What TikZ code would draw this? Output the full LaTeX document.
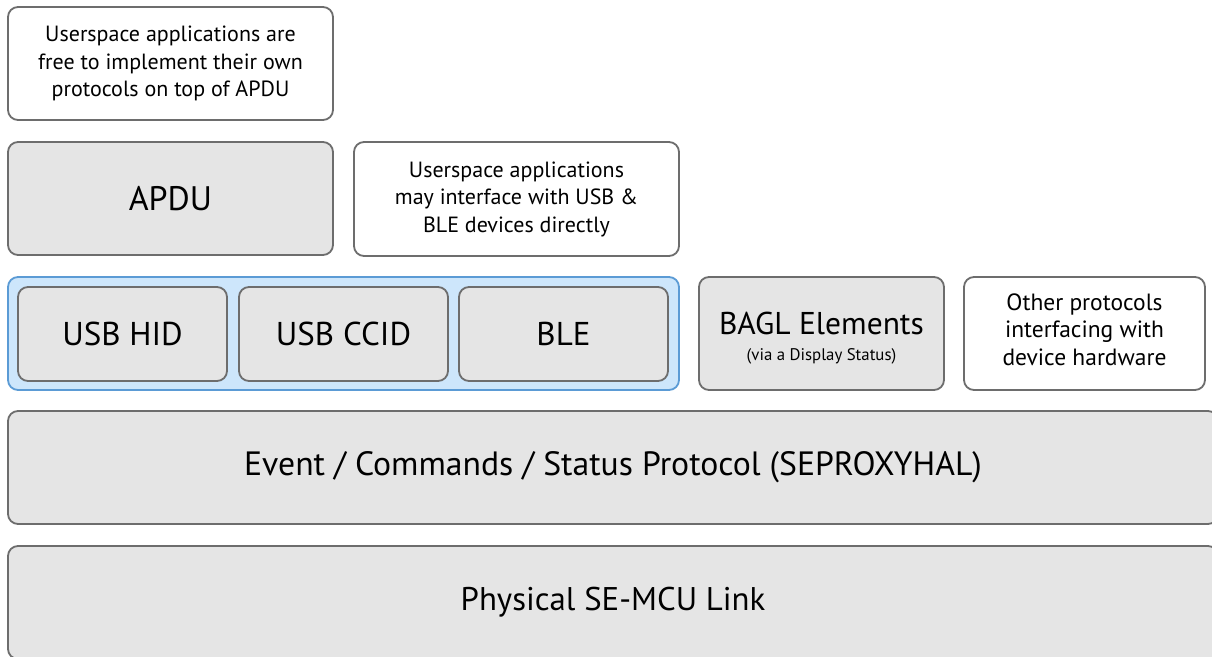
\documentclass[tikz,border=0pt]{standalone}
\usepackage{fontspec}
\setmainfont{PT Sans}
\definecolor{boxgray}{HTML}{E5E5E5}
\definecolor{edgegray}{HTML}{6D6D6D}
\definecolor{layerblue}{HTML}{CDE6FB}
\definecolor{edgeblue}{HTML}{5B9BD5}
\tikzset{
  layer/.style={draw=edgegray, line width=1.8pt, rounded corners=10pt, inner sep=0pt,
    align=center, text=black},
  graybox/.style={layer, fill=boxgray},
  notebox/.style={layer, fill=white, font=\fontsize{22}{27.5}\selectfont},
  bluebox/.style={layer, draw=edgeblue, fill=layerblue},
  linkbox/.style={graybox, minimum width=209pt, minimum height=94pt, font=\fontsize{33}{40}\selectfont},
}
\begin{document}
\begin{tikzpicture}[x=1pt, y=-1pt]
  \useasboundingbox (0,0) rectangle (1212,656);
  \clip (0,0) rectangle (1212,656);

  % application level
  \node[notebox, minimum width=325pt, minimum height=113pt] (userproto) at (170.5,63.5)
    {Userspace applications are\\free to implement their own\\protocols on top of APDU};
  \node[graybox, minimum width=325pt, minimum height=113pt, font=\fontsize{34}{40}\selectfont]
    (apdu) at (170.5,198.5) {APDU};
  \node[notebox, minimum width=325pt, minimum height=114pt] (userdirect) at (516.5,199)
    {Userspace applications\\may interface with USB \&\\BLE devices directly};

  % transport level
  \node[bluebox, minimum width=671pt, minimum height=113pt] (transport) at (343.5,333.5) {};
  \node[linkbox] (usbhid) at (122.5,334) {USB HID};
  \node[linkbox] (usbccid) at (343.5,334) {USB CCID};
  \node[linkbox] (ble) at (563.5,334) {BLE};
  \node[graybox, minimum width=245pt, minimum height=113pt] (bagl) at (821.5,333.5) {};
  \node[align=center, inner sep=0pt, font=\fontsize{16.8}{26}\selectfont]
    (bagltext) at ([yshift=-5pt]bagl.center)
    {{\fontsize{31.5}{32}\selectfont BAGL Elements}\\(via a Display Status)};
  \node[notebox, minimum width=241pt, minimum height=113pt, font=\fontsize{23.5}{27.5}\selectfont]
    (otherproto) at (1084.5,333.5) {};
  \node[align=center, inner sep=0pt, font=\fontsize{23.5}{27.5}\selectfont]
    (othertext) at ([yshift=4pt]otherproto.center)
    {Other protocols\\interfacing with\\device hardware};

  % lower levels
  \node[graybox, minimum width=1210pt, minimum height=113pt, font=\fontsize{33.7}{38}\selectfont]
    (seproxyhal) at (613,467.5) {Event / Commands / Status Protocol (SEPROXYHAL)};
  \node[graybox, minimum width=1210pt, minimum height=113pt, font=\fontsize{32.8}{36}\selectfont]
    (physlink) at (613,602.5) {Physical SE-MCU Link};
\end{tikzpicture}
\end{document}
